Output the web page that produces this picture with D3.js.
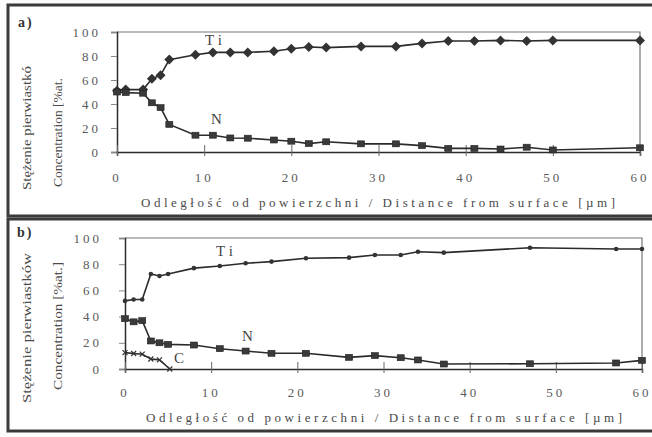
<!DOCTYPE html>
<html><head><meta charset="utf-8">
<script src="https://cdn.jsdelivr.net/npm/d3@7"></script>
<style>body{margin:0;background:#fff}svg{display:block}</style>
</head><body>
<script>
// Panel a data
const aTiX = [0,1,3,4,5,6,9,11,13,15,18,20,22,24,28,32,35,38,41,44,47,50,60];
const aTiY = [51,52,52,61,64,77,81,83,83,83,84,86,87.5,87,88,88,90.5,92.5,92.5,93,92.5,93,93];
const aNX  = [0,1,3,4,5,6,9,11,13,15,18,20,22,24,28,32,35,38,41,44,47,50,60];
const aNY  = [50,49.5,49,41,37,23,14,14,11.7,11.5,10,9,7,8.5,6.8,6.8,5.3,3,3,2.5,4,1.7,3.5];
// Panel b data
const bTiX = [0,1,2,3,4,5,8,11,14,17,21,26,29,32,34,37,47,57,60];
const bTiY = [52,53,53,72.5,71,72.5,77,78.6,80.7,82,84.5,85,87,87,89.5,88.8,92.6,91.6,91.6];
const bNX  = [0,1,2,3,4,5,8,11,14,17,21,26,29,32,34,37,47,57,60];
const bNY  = [38.4,36,36.9,21.4,20,18.8,18.3,15.5,13.7,12,12,8.9,10.2,8.6,6.9,3.8,4,4.6,6.6];
const bCX  = [0,1,2,3,4,5.2];
const bCY  = [12.5,11.8,11.3,7.6,7,0];
const xTicks = [0,10,20,30,40,50,60];
const yTicks = [0,20,40,60,80,100];
const xTitle = "Odległość od powierzchni / Distance from surface [µm]";

const svg = d3.select("body").append("svg").attr("width",652).attr("height",437);
svg.append("rect").attr("width",652).attr("height",437).attr("fill","#fcfcfc");
const serif = "'Liberation Serif','Times New Roman',Tinos,'DejaVu Serif',serif";
const ink = "#2b2b2b", txt = "#5a5a5a";

function panel(o){
  const g = svg.append("g");
  g.append("rect").attr("x",o.frame[0]).attr("y",o.frame[1]).attr("width",o.frame[2]).attr("height",o.frame[3])
   .attr("fill","#fff").attr("stroke","#3a3a3a").attr("stroke-width",3);
  const x = d3.scaleLinear().domain([0,60]).range(o.xr);
  const y = d3.scaleLinear().domain([0,100]).range(o.yr);
  g.append("path").attr("d",`M${x(0)},${y(100)}H${x(60)}V${y(0)}`).attr("fill","none").attr("stroke","#777").attr("stroke-width",1.2);
  const ya = g.append("g").attr("transform",`translate(${x(0)},0)`)
    .call(d3.axisLeft(y).tickValues(yTicks).tickSize(6).tickFormat(""));
  ya.select(".domain").attr("stroke",ink).attr("stroke-width",1.5);
  ya.selectAll(".tick line").attr("stroke","#888");
  const xa = g.append("g").attr("transform",`translate(0,${y(0)})`)
    .call(d3.axisBottom(x).tickValues(xTicks).tickSize(4).tickFormat(""));
  xa.select(".domain").attr("stroke",ink).attr("stroke-width",1.5);
  xa.selectAll(".tick line").attr("y1",-7).attr("stroke","#666");
  g.selectAll(".yl").data(yTicks).join("text").attr("x",o.ylx).attr("y",d=>y(d)+4.5)
    .attr("text-anchor","end").attr("font-family",serif).attr("font-size",13).attr("letter-spacing",3)
    .attr("fill",txt).text(d=>d);
  g.selectAll(".xl").data(xTicks).join("text").attr("x",d=>x(d)).attr("y",o.xly)
    .attr("text-anchor","middle").attr("font-family",serif).attr("font-size",13).attr("letter-spacing",3)
    .attr("fill",txt).text(d=>d);
  g.append("text").attr("x",o.xt[0]).attr("y",o.xt[1]).attr("textLength",o.xt[2]).attr("lengthAdjust","spacing")
    .attr("font-family",serif).attr("font-size",13).attr("fill","#4a4a4a").text(xTitle);
  o.yt.forEach(t=>{
    g.append("text").attr("transform",`translate(${t[0]},${t[1]}) rotate(-90)`).attr("textLength",t[2]).attr("lengthAdjust","spacingAndGlyphs")
      .attr("text-anchor","start").attr("font-family",serif).attr("font-size",13.5).attr("fill","#4a4a4a").text(t[3]);
  });
  g.append("text").attr("x",o.lab[0]).attr("y",o.lab[1]).attr("font-family",serif).attr("font-size",14)
    .attr("font-weight","bold").attr("fill","#333").attr("letter-spacing",2).text(o.lab[2]);
  const line = d3.line().x(d=>x(d[0])).y(d=>y(d[1]));
  o.series.forEach(s=>{
    const pts = s.xs.map((v,i)=>[v,s.ys[i]]);
    g.append("path").attr("d",line(pts)).attr("fill","none").attr("stroke",ink).attr("stroke-width",1.6);
    const m = g.append("g");
    pts.forEach(p=>{
      const cx=x(p[0]), cy=y(p[1]);
      if(s.m==="diamond") m.append("path").attr("d",`M${cx},${cy-5}L${cx+5},${cy}L${cx},${cy+5}L${cx-5},${cy}Z`).attr("fill","#333");
      else if(s.m==="square") m.append("rect").attr("x",cx-3.5).attr("y",cy-3).attr("width",7).attr("height",6).attr("fill","#3a3a3a").attr("stroke","#222").attr("stroke-width",0.6);
      else if(s.m==="dot") m.append("circle").attr("cx",cx).attr("cy",cy).attr("r",2.3).attr("fill","#333");
      else if(s.m==="cross") m.append("path").attr("d",`M${cx-2.5},${cy-2.5}L${cx+2.5},${cy+2.5}M${cx-2.5},${cy+2.5}L${cx+2.5},${cy-2.5}`).attr("stroke","#333").attr("stroke-width",1.2);
    });
  });
  o.names.forEach(n=>{
    g.append("text").attr("x",n[0]).attr("y",n[1]).attr("font-family",serif).attr("font-size",15)
      .attr("letter-spacing",n[3]||0).attr("fill","#444").text(n[2]);
  });
}

panel({frame:[8,5,700,211], xr:[117,640], yr:[152,32], ylx:101, xly:182,
  xt:[141,207,474],
  yt:[[31,190,124,"Stężenie pierwiastkó"],[62,187,109,"Concentration [%at."]],
  lab:[18,27,"a)"],
  series:[{xs:aTiX,ys:aTiY,m:"diamond"},{xs:aNX,ys:aNY,m:"square"}],
  names:[[205,45,"Ti",4],[211,124,"N"]]});

panel({frame:[8,219,700,212], xr:[125,642], yr:[369,238], ylx:102, xly:397,
  xt:[146,422,476],
  yt:[[31,403,150,"Stężenie pierwiastków"],[62,390,128,"Concentration [%at.]"]],
  lab:[17,237,"b)"],
  series:[{xs:bTiX,ys:bTiY,m:"dot"},{xs:bNX,ys:bNY,m:"square"},{xs:bCX,ys:bCY,m:"cross"}],
  names:[[216,256,"Ti",4],[242,341,"N"],[174,363,"C"]]});
</script>
</body></html>
